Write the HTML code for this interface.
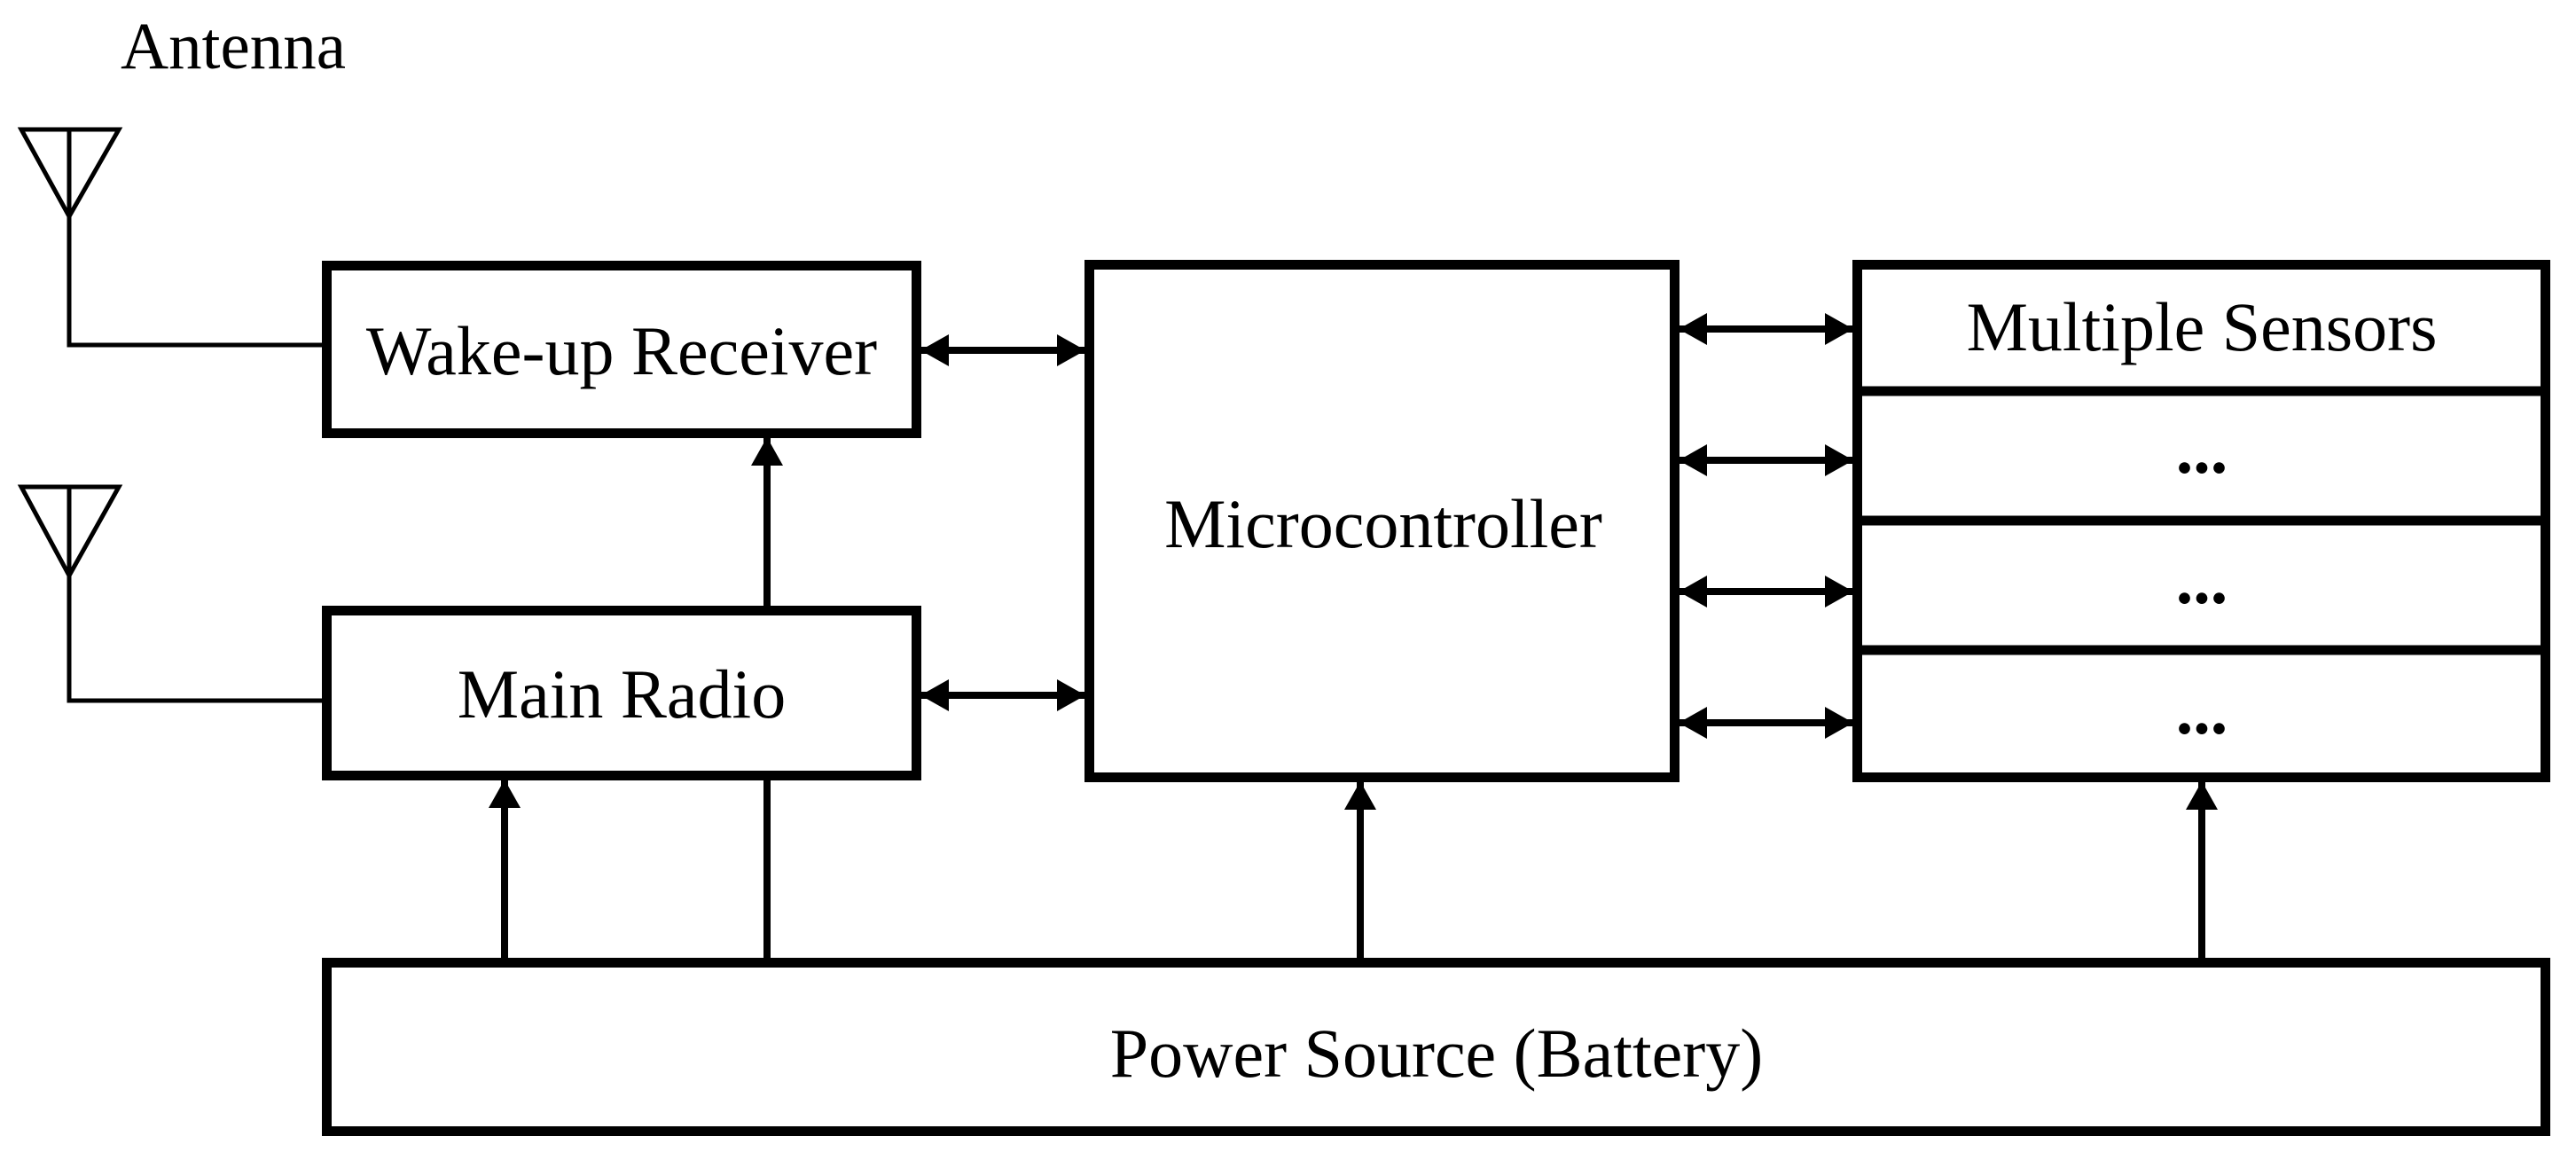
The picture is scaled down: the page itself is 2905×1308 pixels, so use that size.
<!DOCTYPE html>
<html><head><meta charset="utf-8"><style>
html,body{margin:0;padding:0;background:#fff;}
svg{display:block;}
text{font-family:"Liberation Serif",serif;fill:#000;}
</style></head><body>
<svg width="2905" height="1308" viewBox="0 0 2905 1308" xmlns="http://www.w3.org/2000/svg">
<defs>
<marker id="ah" viewBox="0 0 32 36" refX="31" refY="18" markerWidth="32" markerHeight="36" markerUnits="userSpaceOnUse" orient="auto-start-reverse">
<path d="M0,0 L32,18 L0,36 Z" fill="#000"/>
</marker>
</defs>
<text x="136" y="77" font-size="75">Antenna</text>
<g fill="none" stroke="#000" stroke-width="5">
<path d="M24,146 L134,146 L78,244 Z"/><path d="M78,146 L78,389 L365,389"/>
<path d="M24,549 L134,549 L78,649 Z"/><path d="M78,549 L78,790 L365,790"/>
</g>
<g fill="none" stroke="#000" stroke-width="11">
<rect x="368.5" y="299.5" width="665" height="189"/>
<rect x="368.5" y="688.5" width="665" height="186"/>
<rect x="1228.5" y="298.5" width="660" height="578"/>
<rect x="2094.5" y="298.5" width="776" height="578"/>
<line x1="2090" y1="441" x2="2876" y2="441"/>
<line x1="2090" y1="587" x2="2876" y2="587"/>
<line x1="2090" y1="733" x2="2876" y2="733"/>
<rect x="368.5" y="1085.5" width="2502" height="190"/>
</g>
<g stroke="#000" stroke-width="8" fill="none">
<line x1="1039" y1="395" x2="1223" y2="395" marker-start="url(#ah)" marker-end="url(#ah)"/>
<line x1="1039" y1="784" x2="1223" y2="784" marker-start="url(#ah)" marker-end="url(#ah)"/>
<line x1="1894" y1="371" x2="2089" y2="371" marker-start="url(#ah)" marker-end="url(#ah)"/>
<line x1="1894" y1="519" x2="2089" y2="519" marker-start="url(#ah)" marker-end="url(#ah)"/>
<line x1="1894" y1="667" x2="2089" y2="667" marker-start="url(#ah)" marker-end="url(#ah)"/>
<line x1="1894" y1="815" x2="2089" y2="815" marker-start="url(#ah)" marker-end="url(#ah)"/>
<line x1="865" y1="683" x2="865" y2="494" marker-end="url(#ah)"/>
<line x1="569" y1="1080" x2="569" y2="880" marker-end="url(#ah)"/>
<line x1="865" y1="1080" x2="865" y2="880"/>
<line x1="1534" y1="1080" x2="1534" y2="882" marker-end="url(#ah)"/>
<line x1="2483" y1="1080" x2="2483" y2="882" marker-end="url(#ah)"/>
</g>
<g font-size="78" text-anchor="middle">
<text x="701" y="422">Wake-up Receiver</text>
<text x="701" y="809">Main Radio</text>
<text x="1560" y="617">Microcontroller</text>
<text x="2483" y="395">Multiple Sensors</text>
<text x="2483" y="533" font-weight="bold">...</text>
<text x="2483" y="680" font-weight="bold">...</text>
<text x="2483" y="827" font-weight="bold">...</text>
<text x="1620" y="1214">Power Source (Battery)</text>
</g>
</svg>
</body></html>
